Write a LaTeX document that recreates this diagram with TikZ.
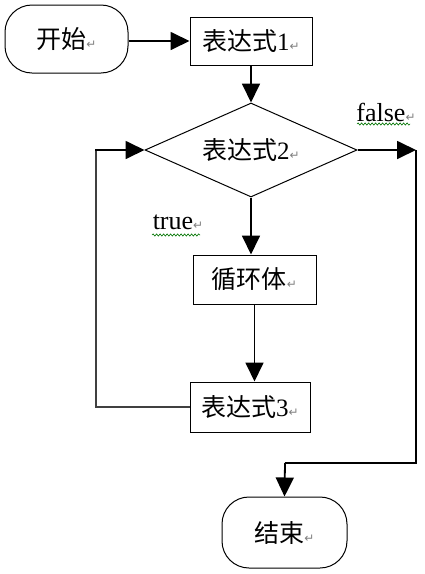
\documentclass[tikz,border=0pt]{standalone}
\usepackage{fontspec}
\setmainfont{Liberation Serif}
\newfontfamily\cjk{Noto Sans CJK SC}
\newfontfamily\symfont{DejaVu Sans}
\usetikzlibrary{arrows.meta,shapes.geometric,decorations.pathmorphing}
% paragraph mark shown after each label
\newcommand{\parmark}{{\symfont\fontsize{12}{12}\selectfont\textcolor{gray}{↵}}}
\begin{document}
\begin{tikzpicture}[x=1pt,y=-1pt,
  every node/.style={font=\cjk\fontsize{25}{25}\selectfont},
  flowbox/.style={draw, line width=1pt, inner sep=0pt},
  terminal/.style={flowbox, rounded corners=27pt},
  decision/.style={draw, line width=1pt, diamond, inner sep=0pt},
  flow/.style={line width=1.8pt, -{Triangle[length=19pt,width=18pt]}},
  plainline/.style={line width=1.8pt},
  loopline/.style={line width=1.4pt, black!75},
  caption/.style={font=\fontsize{26}{26}\selectfont},
  spell/.style={green!45!black, line width=0.6pt, decorate,
    decoration={snake, amplitude=1.1pt, segment length=3.5pt}}]
\useasboundingbox (0,0) rectangle (425,574);

% process steps
\node[terminal, minimum width=123pt, minimum height=68pt] (start) at (66.5,39) {开始\parmark};
\node[flowbox, minimum width=122pt, minimum height=48pt] (expr1) at (251,41) {表达式{\rmfamily 1}\parmark};
\node[decision, minimum width=212pt, minimum height=94pt] (cond) at (251,150) {};
\node at (cond.center) (condtext) {表达式{\rmfamily 2}\parmark};
\node[flowbox, minimum width=123pt, minimum height=49pt] (body) at (254.5,279.5) {循环体\parmark};
\node[flowbox, minimum width=120pt, minimum height=50pt] (expr3) at (250,407) {表达式{\rmfamily 3}\parmark};
\node[terminal, minimum width=125pt, minimum height=71pt] (stop) at (284.5,532.5) {结束\parmark};

% branch labels
\node[caption] (truelbl) at (178,222) {true\parmark};
\node[caption] (falselbl) at (386,112) {false\parmark};
\draw[spell] (152,235) -- (200,235);
\draw[spell] (357,124) -- (410,124);

% bend points of the loop and exit lines
\coordinate (loopbot) at (96,407);
\coordinate (looptop) at (96,150);
\coordinate (exittop) at (416,150);
\coordinate (exitbot) at (416,463);
\coordinate (exitturn) at (285,463);

% connectors
\draw[flow] (expr1.west -| start.east) -- (expr1.west);
\draw[flow] (expr1.south) -- (cond.north);
\draw[flow] (cond.south) -- (cond.south |- body.north);
\draw[flow] (body.south) -- (body.south |- expr3.north);
\draw[loopline] (expr3.west) -- (loopbot) -- (looptop);
\draw[flow, shorten <=-0.7pt] (looptop) -- (cond.west);
\draw[flow] (cond.east) -- (exittop);
\draw[plainline] (exittop) -- (exitbot) -- (exitturn);
\draw[flow] (exitturn) -- (stop.north);
\end{tikzpicture}
\end{document}
